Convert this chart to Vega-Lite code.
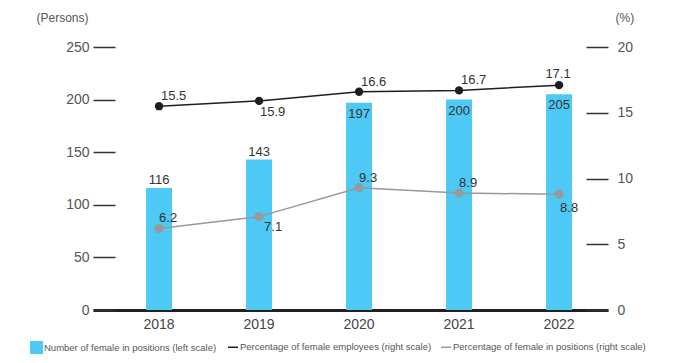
{
  "$schema": "https://vega.github.io/schema/vega-lite/v6.json",
  "width": 515,
  "height": 263,
  "autosize": "none",
  "padding": {"left": 93, "top": 47, "right": 73, "bottom": 53},
  "background": "white",
  "config": {
    "view": {"stroke": null},
    "font": "Liberation Sans",
    "axis": {"grid": false, "labelFont": "Liberation Sans", "titleFont": "Liberation Sans"},
    "legend": {"labelFont": "Liberation Sans"}
  },
  "data": {
    "values": [
      {"year": "2018", "count": 116, "emp": 15.5, "pos": 6.2},
      {"year": "2019", "count": 143, "emp": 15.9, "pos": 7.1},
      {"year": "2020", "count": 197, "emp": 16.6, "pos": 9.3},
      {"year": "2021", "count": 200, "emp": 16.7, "pos": 8.9},
      {"year": "2022", "count": 205, "emp": 17.1, "pos": 8.8}
    ]
  },
  "encoding": {
    "x": {
      "field": "year",
      "type": "ordinal",
      "scale": {"paddingInner": 0.74, "paddingOuter": 0.445, "align": 0.596},
      "axis": {
        "orient": "bottom",
        "title": null,
        "labelAngle": 0,
        "domain": true,
        "domainWidth": 3,
        "domainColor": "#231f20",
        "ticks": false,
        "labelPadding": 7,
        "labelFontSize": 14,
        "labelColor": "#444"
      }
    }
  },
  "layer": [
    {
      "encoding": {
        "y": {
          "field": "count",
          "type": "quantitative",
          "scale": {"domain": [0, 250]},
          "axis": {
            "orient": "left",
            "values": [0, 50, 100, 150, 200, 250],
            "offset": -22,
            "tickSize": 22,
            "tickWidth": 1.5,
            "tickColor": "#333",
            "domain": false,
            "labelPadding": 4,
            "labelFontSize": 14,
            "labelColor": "#555",
            "title": "(Persons)",
            "titleAngle": 0,
            "titleAlign": "right",
            "titleBaseline": "middle",
            "titleX": -27,
            "titleY": -30,
            "titleFontSize": 12,
            "titleFontWeight": "normal",
            "titleColor": "#555"
          }
        }
      },
      "layer": [
        {
          "mark": {"type": "bar"},
          "encoding": {
            "fill": {
              "datum": "Number of female in positions (left scale)",
              "scale": {"range": ["#4ec8f4"]},
              "legend": {
                "orient": "none",
                "legendX": -63,
                "legendY": 294,
                "direction": "horizontal",
                "title": null,
                "symbolType": "square",
                "symbolSize": 169,
                "symbolStrokeWidth": 0,
                "labelFontSize": 9.5,
                "labelLimit": 0,
                "labelColor": "#555",
                "labelOffset": 1
              }
            }
          }
        },
        {
          "transform": [{"filter": "datum.year == '2018' || datum.year == '2019'"}],
          "mark": {"type": "text", "baseline": "alphabetic", "dy": -4, "fontSize": 13, "color": "#333"},
          "encoding": {"text": {"field": "count", "type": "quantitative"}}
        },
        {
          "transform": [{"filter": "datum.year != '2018' && datum.year != '2019'"}],
          "mark": {"type": "text", "baseline": "top", "dy": 5, "fontSize": 13, "color": "#333"},
          "encoding": {"text": {"field": "count", "type": "quantitative"}}
        }
      ]
    },
    {
      "transform": [{"fold": ["emp", "pos"], "as": ["series", "value"]}],
      "encoding": {
        "y": {
          "field": "value",
          "type": "quantitative",
          "scale": {"domain": [0, 20]},
          "axis": {
            "orient": "right",
            "values": [0, 5, 10, 15, 20],
            "offset": -22,
            "tickSize": 22,
            "tickWidth": 1.5,
            "tickColor": "#333",
            "domain": false,
            "labelPadding": 9,
            "labelFontSize": 14,
            "labelColor": "#555",
            "title": "(%)",
            "titleAngle": 0,
            "titleAlign": "left",
            "titleBaseline": "middle",
            "titleX": 29,
            "titleY": -30,
            "titleFontSize": 12,
            "titleFontWeight": "normal",
            "titleColor": "#555"
          }
        }
      },
      "layer": [
        {
          "mark": {"type": "line", "strokeWidth": 1.5},
          "encoding": {
            "stroke": {
              "field": "series",
              "type": "nominal",
              "scale": {"domain": ["emp", "pos"], "range": ["#1e1e1e", "#999999"]},
              "legend": {
                "orient": "none",
                "legendX": 134,
                "legendY": 294,
                "direction": "horizontal",
                "title": null,
                "symbolType": "stroke",
                "symbolSize": 100,
                "symbolStrokeWidth": 1.5,
                "labelFontSize": 9.5,
                "labelLimit": 0,
                "labelColor": "#555",
                "labelOffset": 1,
                "columnPadding": 6,
                "labelExpr": "datum.label == 'emp' ? 'Percentage of female employees (right scale)' : 'Percentage of female in positions (right scale)'"
              }
            }
          }
        },
        {
          "transform": [{"filter": "datum.series == 'emp'"}],
          "mark": {"type": "circle", "size": 70, "opacity": 1, "color": "#1e1e1e"},
          "encoding": {}
        },
        {
          "transform": [{"filter": "datum.series == 'pos'"}],
          "mark": {"type": "circle", "size": 80, "opacity": 1, "color": "#999999"},
          "encoding": {}
        },
        {
          "transform": [{"filter": "datum.series == 'emp' && (datum.year == '2018' || datum.year == '2020' || datum.year == '2021')"}],
          "mark": {"type": "text", "align": "left", "baseline": "alphabetic", "dx": 2, "dy": -6, "fontSize": 13, "color": "#333"},
          "encoding": {"text": {"field": "value", "type": "quantitative", "format": ".1f"}}
        },
        {
          "transform": [{"filter": "datum.series == 'emp' && datum.year == '2022'"}],
          "mark": {"type": "text", "align": "center", "baseline": "alphabetic", "dx": -1, "dy": -7, "fontSize": 13, "color": "#333"},
          "encoding": {"text": {"field": "value", "type": "quantitative", "format": ".1f"}}
        },
        {
          "transform": [{"filter": "datum.series == 'emp' && datum.year == '2019'"}],
          "mark": {"type": "text", "align": "left", "baseline": "top", "dx": 1, "dy": 5, "fontSize": 13, "color": "#333"},
          "encoding": {"text": {"field": "value", "type": "quantitative", "format": ".1f"}}
        },
        {
          "transform": [{"filter": "datum.series == 'pos' && (datum.year == '2018' || datum.year == '2020' || datum.year == '2021')"}],
          "mark": {"type": "text", "align": "left", "baseline": "alphabetic", "dx": 0, "dy": -6, "fontSize": 13, "color": "#333"},
          "encoding": {"text": {"field": "value", "type": "quantitative", "format": ".1f"}}
        },
        {
          "transform": [{"filter": "datum.series == 'pos' && datum.year == '2019'"}],
          "mark": {"type": "text", "align": "left", "baseline": "top", "dx": 5, "dy": 4, "fontSize": 13, "color": "#333"},
          "encoding": {"text": {"field": "value", "type": "quantitative", "format": ".1f"}}
        },
        {
          "transform": [{"filter": "datum.series == 'pos' && datum.year == '2022'"}],
          "mark": {"type": "text", "align": "left", "baseline": "top", "dx": 1, "dy": 8, "fontSize": 13, "color": "#333"},
          "encoding": {"text": {"field": "value", "type": "quantitative", "format": ".1f"}}
        }
      ]
    }
  ],
  "resolve": {"scale": {"y": "independent"}}
}
